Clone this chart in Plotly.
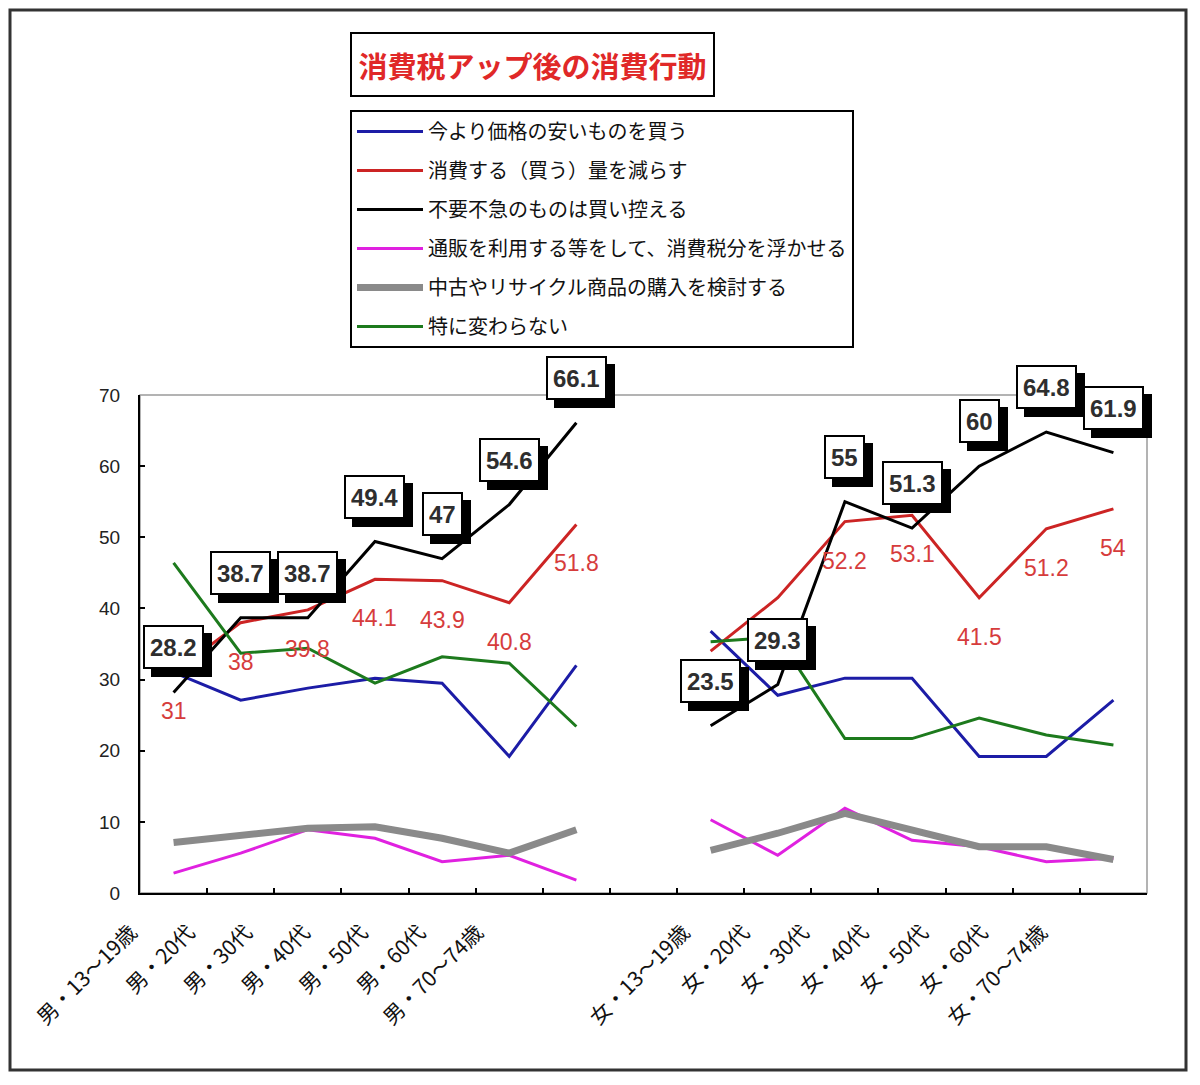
import plotly.graph_objects as go

W, H = 1200, 1085

cats_m = ["男・13～19歳", "男・20代", "男・30代", "男・40代", "男・50代", "男・60代", "男・70～74歳"]
cats_f = ["女・13～19歳", "女・20代", "女・30代", "女・40代", "女・50代", "女・60代", "女・70～74歳"]
gap = " "
categories = cats_m + [gap] + cats_f

series_names = [
    "今より価格の安いものを買う",
    "消費する（買う）量を減らす",
    "不要不急のものは買い控える",
    "通販を利用する等をして、消費税分を浮かせる",
    "中古やリサイクル商品の購入を検討する",
    "特に変わらない",
]

cheaper_m = [31.0, 27.1, 28.8, 30.2, 29.5, 19.2, 32.0]
cheaper_f = [36.8, 27.8, 30.2, 30.2, 19.2, 19.2, 27.1]

reduce_m = [31, 38, 39.8, 44.1, 43.9, 40.8, 51.8]
reduce_f = [34.0, 41.5, 52.2, 53.1, 41.5, 51.2, 54]

refrain_m = [28.2, 38.7, 38.7, 49.4, 47, 54.6, 66.1]
refrain_f = [23.5, 29.3, 55, 51.3, 60, 64.8, 61.9]

mailorder_m = [2.8, 5.6, 8.9, 7.7, 4.4, 5.3, 1.8]
mailorder_f = [10.3, 5.3, 11.9, 7.4, 6.5, 4.4, 4.9]

used_m = [7.1, 8.2, 9.1, 9.3, 7.7, 5.6, 8.9]
used_f = [6.0, 8.4, 11.2, 8.9, 6.5, 6.5, 4.7]

nochange_m = [46.4, 33.7, 34.4, 29.5, 33.2, 32.3, 23.4]
nochange_f = [35.3, 36.0, 21.7, 21.7, 24.6, 22.2, 20.8]

title_text = "消費税アップ後の消費行動"
y_ticks = [0, 10, 20, 30, 40, 50, 60, 70]

colors = ["#1c1ca6", "#cc2424", "#000000", "#e021e0", "#8a8a8a", "#1d7a1d"]
widths = [3, 3, 3, 3, 7, 3]

data_m = [cheaper_m, reduce_m, refrain_m, mailorder_m, used_m, nochange_m]
data_f = [cheaper_f, reduce_f, refrain_f, mailorder_f, used_f, nochange_f]

CJK = "Noto Sans CJK JP"
NUM = "Liberation Sans"

fig = go.Figure()
for i, name in enumerate(series_names):
    ys = list(data_m[i]) + [None] + list(data_f[i])
    fig.add_trace(go.Scatter(
        x=categories, y=ys, mode="lines", name=name,
        line=dict(color=colors[i], width=widths[i]),
        connectgaps=False, legendgroup=str(i),
        hoverinfo="skip",
    ))

# carrier traces for the rotated category labels (no visible marks)
fig.add_trace(go.Scatter(x=cats_m, y=[None] * len(cats_m), xaxis="x2", yaxis="y",
                         mode="lines", showlegend=False, hoverinfo="skip"))
fig.add_trace(go.Scatter(x=cats_f, y=[None] * len(cats_f), xaxis="x3", yaxis="y",
                         mode="lines", showlegend=False, hoverinfo="skip"))

def px_x(p):
    return p / W

def px_y(p):
    return 1 - p / H

plot_l, plot_r, plot_t, plot_b = 140, 1147, 395, 893

annotations = []
for cat, v in zip(categories, reduce_m + [None] + reduce_f):
    if v is None:
        continue
    annotations.append(dict(
        x=cat, y=v, xref="x", yref="y", text=f"{v:g}", showarrow=False,
        yshift=-39, font=dict(family=NUM, size=23, color="#d63c3c"),
    ))
box_style = dict(borderwidth=2, borderpad=5, height=30)
for cat, v in zip(categories, refrain_m + [None] + refrain_f):
    if v is None:
        continue
    annotations.append(dict(
        x=cat, y=v, xref="x", yref="y", text=f"<b>{v:g}</b>", showarrow=False,
        xshift=8, yshift=37, font=dict(family=NUM, size=24, color="#000000"),
        bgcolor="#000000", bordercolor="#000000", **box_style,
    ))
    annotations.append(dict(
        x=cat, y=v, xref="x", yref="y", text=f"<b>{v:g}</b>", showarrow=False,
        yshift=45, font=dict(family=NUM, size=24, color="#2e2e2e"),
        bgcolor="#ffffff", bordercolor="#000000", **box_style,
    ))
annotations.append(dict(
    x=px_x(532.5), y=px_y(64.5), xref="paper", yref="paper", showarrow=False,
    xanchor="center", yanchor="middle",
    text=f"<b>{title_text}</b>", font=dict(family=CJK, size=29, color="#e02828"),
    bgcolor="#ffffff", bordercolor="#000000", borderwidth=2, borderpad=2,
    width=357, height=57,
))

shapes = [
    dict(type="rect", xref="paper", yref="paper",
         x0=px_x(10), x1=px_x(1186), y0=px_y(1070), y1=px_y(10),
         line=dict(color="#333333", width=3), layer="below"),
    dict(type="rect", xref="paper", yref="paper",
         x0=px_x(plot_l), x1=px_x(plot_r), y0=px_y(plot_b), y1=px_y(plot_t),
         line=dict(color="#9a9a9a", width=1.5), layer="below"),
]

label_axis = dict(
    anchor="y", type="category", range=[-0.5, 6.5], tickangle=-45,
    ticks="", showline=False, showgrid=False, zeroline=False, automargin=False,
    tickfont=dict(family=CJK, size=21, color="#111111"), ticklabelstandoff=22,
)

fig.update_layout(
    template="none",
    width=W, height=H,
    margin=dict(l=0, r=0, t=0, b=0, pad=0, autoexpand=False),
    paper_bgcolor="#ffffff", plot_bgcolor="rgba(0,0,0,0)",
    showlegend=True,
    legend=dict(
        x=px_x(350), y=px_y(110), xanchor="left", yanchor="top",
        bordercolor="#000000", borderwidth=2, bgcolor="#ffffff",
        font=dict(family=CJK, size=20, color="#111111"),
        tracegroupgap=10, traceorder="grouped", itemwidth=66,
    ),
    xaxis=dict(
        domain=[px_x(plot_l), px_x(plot_r)], type="category",
        categoryorder="array", categoryarray=categories,
        showticklabels=False, ticks="inside", ticklen=5, tickwidth=1.5, tickcolor="#000",
        tickson="boundaries", showgrid=False, zeroline=False, automargin=False,
        showline=True, linecolor="#000000", linewidth=2,
        range=[-0.5, len(categories) - 0.5],
    ),
    yaxis=dict(
        domain=[px_y(plot_b), px_y(plot_t)], range=[0, 70],
        tickvals=y_ticks, ticks="inside", ticklen=5, tickwidth=1.5, tickcolor="#000",
        showgrid=False, zeroline=False, showline=True, linecolor="#000000", linewidth=2,
        automargin=False,
        tickfont=dict(family=NUM, size=19, color="#222222"), ticklabelstandoff=14,
    ),
    xaxis2=dict(label_axis, domain=[px_x(102), px_x(506)],
                categoryorder="array", categoryarray=cats_m),
    xaxis3=dict(label_axis, domain=[px_x(654), px_x(1071)],
                categoryorder="array", categoryarray=cats_f),
    annotations=annotations,
    shapes=shapes,
)

fig.write_html("out.html")
